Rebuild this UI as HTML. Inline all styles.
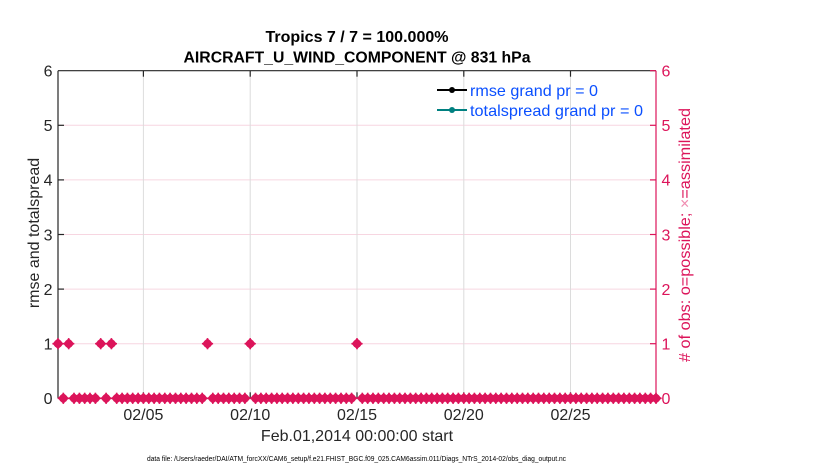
<!DOCTYPE html>
<html>
<head>
<meta charset="utf-8">
<style>
  html, body { margin:0; padding:0; background:#ffffff; }
  svg { display:block; }
  text { font-family: "Liberation Sans", Arial, sans-serif; }
</style>
</head>
<body>
<svg width="830" height="470" viewBox="0 0 830 470" xmlns="http://www.w3.org/2000/svg">
  <defs>
    <g id="m">
      <circle cx="0" cy="0" r="4.2" fill="#dc145a"/>
      <polygon points="0,-5.6 5.6,0 0,5.6 -5.6,0" fill="#dc145a"/>
      <line x1="-5.6" y1="0" x2="5.6" y2="0" stroke="#dc145a" stroke-width="1.6"/>
      <line x1="0" y1="-5.6" x2="0" y2="5.6" stroke="#dc145a" stroke-width="1.6"/>
    </g>
  </defs>
  <rect width="830" height="470" fill="#ffffff"/>

  <!-- horizontal grid (pink) -->
  <g stroke="#f7d6e1" stroke-width="1">
    <line x1="58" y1="343.7" x2="656" y2="343.7"/>
    <line x1="58" y1="289.1" x2="656" y2="289.1"/>
    <line x1="58" y1="234.5" x2="656" y2="234.5"/>
    <line x1="58" y1="179.9" x2="656" y2="179.9"/>
    <line x1="58" y1="125.3" x2="656" y2="125.3"/>
  </g>
  <!-- vertical grid (gray) -->
  <g stroke="#dcdcdc" stroke-width="1">
    <line x1="143.4" y1="70.7" x2="143.4" y2="398.3"/>
    <line x1="250.2" y1="70.7" x2="250.2" y2="398.3"/>
    <line x1="357.0" y1="70.7" x2="357.0" y2="398.3"/>
    <line x1="463.8" y1="70.7" x2="463.8" y2="398.3"/>
    <line x1="570.5" y1="70.7" x2="570.5" y2="398.3"/>
  </g>

  <!-- axes box -->
  <g stroke="#262626" stroke-width="1.2">
    <line x1="58" y1="70.7" x2="656" y2="70.7"/>
    <line x1="58" y1="398.3" x2="656" y2="398.3"/>
    <line x1="58" y1="70.7" x2="58" y2="398.3"/>
    <line x1="58" y1="343.7" x2="64" y2="343.7"/>
    <line x1="58" y1="289.1" x2="64" y2="289.1"/>
    <line x1="58" y1="234.5" x2="64" y2="234.5"/>
    <line x1="58" y1="179.9" x2="64" y2="179.9"/>
    <line x1="58" y1="125.3" x2="64" y2="125.3"/>
    <line x1="143.4" y1="70.7" x2="143.4" y2="76.7"/>
    <line x1="250.2" y1="70.7" x2="250.2" y2="76.7"/>
    <line x1="357.0" y1="70.7" x2="357.0" y2="76.7"/>
    <line x1="463.8" y1="70.7" x2="463.8" y2="76.7"/>
    <line x1="570.5" y1="70.7" x2="570.5" y2="76.7"/>
    <line x1="143.4" y1="398.3" x2="143.4" y2="392.3"/>
    <line x1="250.2" y1="398.3" x2="250.2" y2="392.3"/>
    <line x1="357.0" y1="398.3" x2="357.0" y2="392.3"/>
    <line x1="463.8" y1="398.3" x2="463.8" y2="392.3"/>
    <line x1="570.5" y1="398.3" x2="570.5" y2="392.3"/>
  </g>
  <!-- right axis (pink) -->
  <g stroke="#dc145a" stroke-width="1.2">
    <line x1="656" y1="70.7" x2="656" y2="398.3"/>
    <line x1="650" y1="70.7" x2="656" y2="70.7"/>
    <line x1="650" y1="125.3" x2="656" y2="125.3"/>
    <line x1="650" y1="179.9" x2="656" y2="179.9"/>
    <line x1="650" y1="234.5" x2="656" y2="234.5"/>
    <line x1="650" y1="289.1" x2="656" y2="289.1"/>
    <line x1="650" y1="343.7" x2="656" y2="343.7"/>
    <line x1="650" y1="398.3" x2="656" y2="398.3"/>
  </g>

  <!-- markers value 1 -->
  <g>
    <use href="#m" x="58.0" y="343.7"/>
    <use href="#m" x="68.7" y="343.7"/>
    <use href="#m" x="100.7" y="343.7"/>
    <use href="#m" x="111.4" y="343.7"/>
    <use href="#m" x="207.5" y="343.7"/>
    <use href="#m" x="250.2" y="343.7"/>
    <use href="#m" x="357.0" y="343.7"/>
  </g>
  <!-- markers value 0 -->
  <g>
    <use href="#m" x="63.3" y="398.3"/>
    <use href="#m" x="74.0" y="398.3"/>
    <use href="#m" x="79.4" y="398.3"/>
    <use href="#m" x="84.7" y="398.3"/>
    <use href="#m" x="90.0" y="398.3"/>
    <use href="#m" x="95.4" y="398.3"/>
    <use href="#m" x="106.1" y="398.3"/>
    <use href="#m" x="116.7" y="398.3"/>
    <use href="#m" x="122.1" y="398.3"/>
    <use href="#m" x="127.4" y="398.3"/>
    <use href="#m" x="132.7" y="398.3"/>
    <use href="#m" x="138.1" y="398.3"/>
    <use href="#m" x="143.4" y="398.3"/>
    <use href="#m" x="148.8" y="398.3"/>
    <use href="#m" x="154.1" y="398.3"/>
    <use href="#m" x="159.4" y="398.3"/>
    <use href="#m" x="164.8" y="398.3"/>
    <use href="#m" x="170.1" y="398.3"/>
    <use href="#m" x="175.5" y="398.3"/>
    <use href="#m" x="180.8" y="398.3"/>
    <use href="#m" x="186.1" y="398.3"/>
    <use href="#m" x="191.5" y="398.3"/>
    <use href="#m" x="196.8" y="398.3"/>
    <use href="#m" x="202.2" y="398.3"/>
    <use href="#m" x="212.8" y="398.3"/>
    <use href="#m" x="218.2" y="398.3"/>
    <use href="#m" x="223.5" y="398.3"/>
    <use href="#m" x="228.8" y="398.3"/>
    <use href="#m" x="234.2" y="398.3"/>
    <use href="#m" x="239.5" y="398.3"/>
    <use href="#m" x="244.9" y="398.3"/>
    <use href="#m" x="255.5" y="398.3"/>
    <use href="#m" x="260.9" y="398.3"/>
    <use href="#m" x="266.2" y="398.3"/>
    <use href="#m" x="271.6" y="398.3"/>
    <use href="#m" x="276.9" y="398.3"/>
    <use href="#m" x="282.2" y="398.3"/>
    <use href="#m" x="287.6" y="398.3"/>
    <use href="#m" x="292.9" y="398.3"/>
    <use href="#m" x="298.3" y="398.3"/>
    <use href="#m" x="303.6" y="398.3"/>
    <use href="#m" x="308.9" y="398.3"/>
    <use href="#m" x="314.3" y="398.3"/>
    <use href="#m" x="319.6" y="398.3"/>
    <use href="#m" x="324.9" y="398.3"/>
    <use href="#m" x="330.3" y="398.3"/>
    <use href="#m" x="335.6" y="398.3"/>
    <use href="#m" x="341.0" y="398.3"/>
    <use href="#m" x="346.3" y="398.3"/>
    <use href="#m" x="351.6" y="398.3"/>
    <use href="#m" x="362.3" y="398.3"/>
    <use href="#m" x="367.7" y="398.3"/>
    <use href="#m" x="373.0" y="398.3"/>
    <use href="#m" x="378.3" y="398.3"/>
    <use href="#m" x="383.7" y="398.3"/>
    <use href="#m" x="389.0" y="398.3"/>
    <use href="#m" x="394.4" y="398.3"/>
    <use href="#m" x="399.7" y="398.3"/>
    <use href="#m" x="405.0" y="398.3"/>
    <use href="#m" x="410.4" y="398.3"/>
    <use href="#m" x="415.7" y="398.3"/>
    <use href="#m" x="421.1" y="398.3"/>
    <use href="#m" x="426.4" y="398.3"/>
    <use href="#m" x="431.7" y="398.3"/>
    <use href="#m" x="437.1" y="398.3"/>
    <use href="#m" x="442.4" y="398.3"/>
    <use href="#m" x="447.7" y="398.3"/>
    <use href="#m" x="453.1" y="398.3"/>
    <use href="#m" x="458.4" y="398.3"/>
    <use href="#m" x="463.8" y="398.3"/>
    <use href="#m" x="469.1" y="398.3"/>
    <use href="#m" x="474.4" y="398.3"/>
    <use href="#m" x="479.8" y="398.3"/>
    <use href="#m" x="485.1" y="398.3"/>
    <use href="#m" x="490.5" y="398.3"/>
    <use href="#m" x="495.8" y="398.3"/>
    <use href="#m" x="501.1" y="398.3"/>
    <use href="#m" x="506.5" y="398.3"/>
    <use href="#m" x="511.8" y="398.3"/>
    <use href="#m" x="517.2" y="398.3"/>
    <use href="#m" x="522.5" y="398.3"/>
    <use href="#m" x="527.8" y="398.3"/>
    <use href="#m" x="533.2" y="398.3"/>
    <use href="#m" x="538.5" y="398.3"/>
    <use href="#m" x="543.8" y="398.3"/>
    <use href="#m" x="549.2" y="398.3"/>
    <use href="#m" x="554.5" y="398.3"/>
    <use href="#m" x="559.9" y="398.3"/>
    <use href="#m" x="565.2" y="398.3"/>
    <use href="#m" x="570.5" y="398.3"/>
    <use href="#m" x="575.9" y="398.3"/>
    <use href="#m" x="581.2" y="398.3"/>
    <use href="#m" x="586.6" y="398.3"/>
    <use href="#m" x="591.9" y="398.3"/>
    <use href="#m" x="597.2" y="398.3"/>
    <use href="#m" x="602.6" y="398.3"/>
    <use href="#m" x="607.9" y="398.3"/>
    <use href="#m" x="613.3" y="398.3"/>
    <use href="#m" x="618.6" y="398.3"/>
    <use href="#m" x="623.9" y="398.3"/>
    <use href="#m" x="629.3" y="398.3"/>
    <use href="#m" x="634.6" y="398.3"/>
    <use href="#m" x="639.9" y="398.3"/>
    <use href="#m" x="645.3" y="398.3"/>
    <use href="#m" x="650.6" y="398.3"/>
    <use href="#m" x="656.0" y="398.3"/>
  </g>

  <!-- title -->
  <text x="357" y="42" font-size="16" font-weight="bold" fill="#000" text-anchor="middle" textLength="183" lengthAdjust="spacingAndGlyphs">Tropics 7 / 7 = 100.000%</text>
  <text x="357" y="62.5" font-size="16" font-weight="bold" fill="#000" text-anchor="middle" textLength="347" lengthAdjust="spacingAndGlyphs">AIRCRAFT_U_WIND_COMPONENT @ 831 hPa</text>

  <!-- left tick labels -->
  <g font-size="16" fill="#262626" text-anchor="end">
    <text x="52.5" y="76.5">6</text>
    <text x="52.5" y="131.1">5</text>
    <text x="52.5" y="185.7">4</text>
    <text x="52.5" y="240.3">3</text>
    <text x="52.5" y="294.9">2</text>
    <text x="52.5" y="349.5">1</text>
    <text x="52.5" y="404.1">0</text>
  </g>
  <!-- right tick labels -->
  <g font-size="16" fill="#dc145a" text-anchor="start">
    <text x="661.5" y="76.5">6</text>
    <text x="661.5" y="131.1">5</text>
    <text x="661.5" y="185.7">4</text>
    <text x="661.5" y="240.3">3</text>
    <text x="661.5" y="294.9">2</text>
    <text x="661.5" y="349.5">1</text>
    <text x="661.5" y="404.1">0</text>
  </g>
  <!-- x tick labels -->
  <g font-size="16" fill="#262626" text-anchor="middle">
    <text x="143.4" y="420">02/05</text>
    <text x="250.2" y="420">02/10</text>
    <text x="357.0" y="420">02/15</text>
    <text x="463.8" y="420">02/20</text>
    <text x="570.5" y="420">02/25</text>
  </g>
  <text x="357" y="441" font-size="16" fill="#262626" text-anchor="middle">Feb.01,2014 00:00:00 start</text>

  <!-- axis labels -->
  <text transform="translate(39,233) rotate(-90)" font-size="16" fill="#262626" text-anchor="middle">rmse and totalspread</text>
  <text transform="translate(690,235) rotate(-90)" font-size="16" fill="#dc145a" text-anchor="middle" textLength="254" lengthAdjust="spacingAndGlyphs"># of obs: o=possible; <tspan fill="#f08cb0">×</tspan>=assimilated</text>

  <!-- legend -->
  <line x1="437" y1="90" x2="467" y2="90" stroke="#000" stroke-width="2"/>
  <circle cx="452" cy="90" r="3" fill="#000"/>
  <text x="470" y="96" font-size="16" fill="#0a4fff" textLength="128" lengthAdjust="spacingAndGlyphs">rmse grand pr = 0</text>
  <line x1="437" y1="110" x2="467" y2="110" stroke="#008080" stroke-width="2"/>
  <circle cx="452" cy="110" r="3" fill="#008080"/>
  <text x="470" y="116" font-size="16" fill="#0a4fff" textLength="173" lengthAdjust="spacingAndGlyphs">totalspread grand pr = 0</text>

  <!-- footer -->
  <text x="356.5" y="461" font-size="7" fill="#000" text-anchor="middle" textLength="419" lengthAdjust="spacingAndGlyphs">data file: /Users/raeder/DAI/ATM_forcXX/CAM6_setup/f.e21.FHIST_BGC.f09_025.CAM6assim.011/Diags_NTrS_2014-02/obs_diag_output.nc</text>
</svg>
</body>
</html>
